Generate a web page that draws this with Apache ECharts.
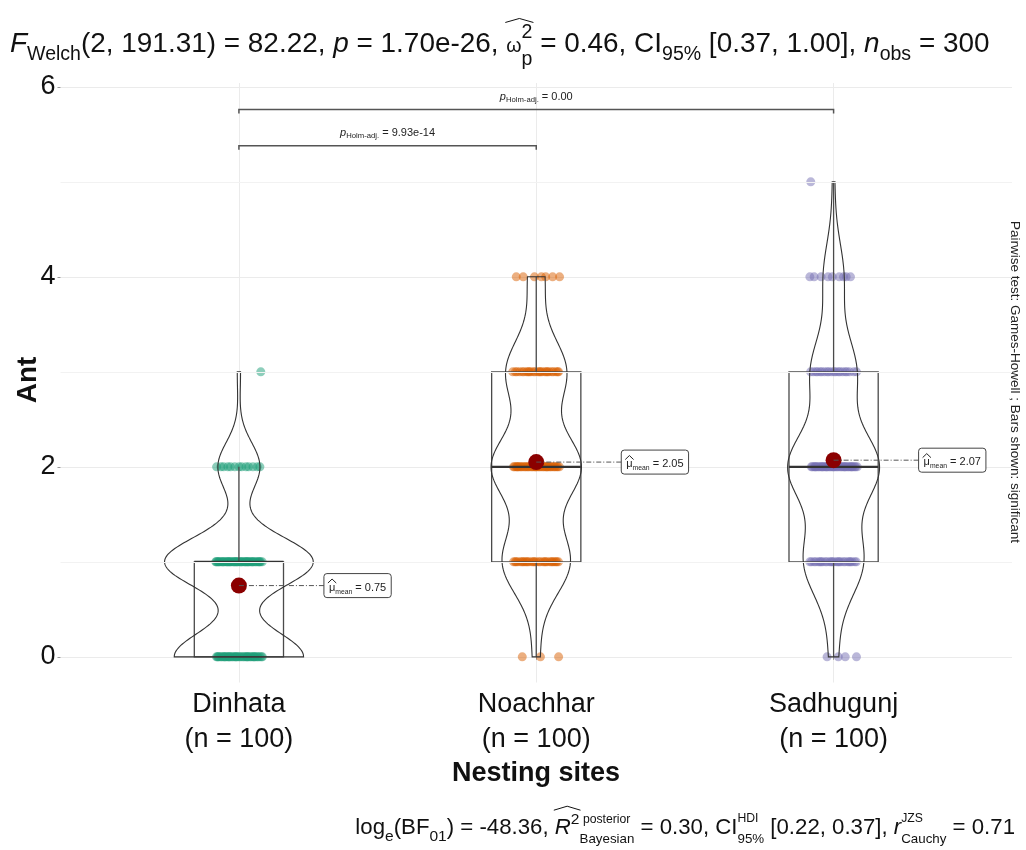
<!DOCTYPE html>
<html><head><meta charset="utf-8">
<script src="https://cdn.jsdelivr.net/npm/echarts@6/dist/echarts.min.js"></script>
<style>html,body{margin:0;padding:0;background:#fff}#c{width:1026px;height:850px}</style>
</head><body><div id="c"></div>
<script>
// ---------------- data ----------------
const sites = ['Dinhata', 'Noachhar', 'Sadhugunj'];
const siteN = [100, 100, 100];
const antLevels = [0, 1, 2, 3, 4, 5];
const countsDinhata   = [40, 46, 13, 1, 0, 0];
const countsNoachhar  = [3, 28, 37, 25, 7, 0];
const countsSadhugunj = [4, 26, 40, 20, 9, 1];
const siteColors = ['#1B9E77', '#D95F02', '#7570B3'];
const yTicks = [0, 2, 4, 6];
const yMinorTicks = [1, 3, 5];
const xTicks = [1, 2, 3];
const pairFrom = [0, 0];
const pairTo = [1, 2];
const pairP = ['9.93e-14', '0.00'];
const pairLevel = [5.38, 5.76];
const titleVals = ['2', '191.31', '82.22', '1.70e-26', '0.46', '0.37', '1.00', '300'];
const captionVals = ['-48.36', '0.30', '0.22', '0.37', '0.71'];

// ---------------- stats ----------------
const countsBySite = [countsDinhata, countsNoachhar, countsSadhugunj];
function expand(c) { const v = []; c.forEach((k, i) => { for (let j = 0; j < k; j++) v.push(antLevels[i]); }); return v; }
function quant(s, q) { const h = (s.length - 1) * q, lo = Math.floor(h); const hi = Math.min(lo + 1, s.length - 1); return s[lo] + (h - lo) * (s[hi] - s[lo]); }
const stats = countsBySite.map(c => {
  const v = expand(c).sort((a, b) => a - b);
  const n = v.length;
  const mean = v.reduce((a, b) => a + b, 0) / n;
  const sd = Math.sqrt(v.reduce((a, b) => a + (b - mean) * (b - mean), 0) / (n - 1));
  const q1 = quant(v, 0.25), med = quant(v, 0.5), q3 = quant(v, 0.75), iqr = q3 - q1;
  const wLo = Math.min(...v.filter(x => x >= q1 - 1.5 * iqr));
  const wHi = Math.max(...v.filter(x => x <= q3 + 1.5 * iqr));
  const bw = 0.9 * Math.min(sd, iqr / 1.34) * Math.pow(n, -0.2);
  const lo = v[0], hi = v[n - 1];
  const ys = [], ds = [];
  for (let k = 0; k <= 200; k++) {
    const y = lo + (hi - lo) * k / 200;
    let d = 0;
    c.forEach((cnt, i) => { const z = (y - antLevels[i]) / bw; d += cnt * Math.exp(-0.5 * z * z); });
    ys.push(y); ds.push(d / (n * bw * Math.sqrt(2 * Math.PI)));
  }
  return { n, mean, q1, med, q3, wLo, wHi, ys, ds };
});
const dMax = Math.max(...stats.map(s => Math.max(...s.ds)));

// jittered points (deterministic low-discrepancy spread, no randomness)
const pointSeries = countsBySite.map((c, s) => {
  const pts = [];
  c.forEach((cnt, li) => {
    for (let j = 0; j < cnt; j++) {
      const f = (j * 0.6180339887 + s * 0.775 + li * 0.255 + 0.195) % 1;
      pts.push([s + 1 + (f - 0.5) * 0.16, antLevels[li]]);
    }
  });
  return pts;
});

// ---------------- text helpers ----------------
const FONT = '"Liberation Sans", Arial, sans-serif';
const mctx = document.createElement('canvas').getContext('2d');
function fnt(size, it, b) { return (it ? 'italic ' : '') + (b ? 'bold ' : '') + size.toFixed(2) + 'px ' + FONT; }
function measure(t, font) { mctx.font = font; return mctx.measureText(t).width; }
function midOff(font) { mctx.font = font; mctx.textBaseline = 'middle'; const m = mctx.measureText('H'); mctx.textBaseline = 'alphabetic'; return m.actualBoundingBoxDescent; }
function layoutMath(pieces, S) {
  let x = 0, prevX = 0, prevW = 0; const items = [];
  pieces.forEach(p => {
    const size = S * (p.r || 1); const font = fnt(size, p.it, p.b);
    const w = measure(p.t, font); let px;
    if (p.stack) { px = prevX; const adv = Math.max(prevW, w); x = prevX + adv; prevW = adv; }
    else { px = x; prevX = x; prevW = w; x += w; }
    items.push({ t: p.t, x: px, dy: (p.dy || 0) * S, font, mid: midOff(font), w });
  });
  return { items, width: x, S };
}
function mathEls(L, x0, yb, color, hats) {
  const els = L.items.map(it => ({
    type: 'text', x: x0 + it.x, y: yb + it.dy - it.mid,
    style: { text: it.t, font: it.font, fill: color, align: 'left', verticalAlign: 'middle', textAlign: 'left', textVerticalAlign: 'middle' }
  }));
  (hats || []).forEach(h => {
    const a = L.items[h[0]], b = L.items.slice(h[0], h[1] + 1);
    const x1 = x0 + a.x - 1, x2 = x0 + Math.max(...b.map(i => i.x + i.w)) + 1;
    const y = yb + h[2] * L.S;
    els.push({ type: 'polyline', shape: { points: [[x1, y + 4], [(x1 + x2) / 2, y], [x2, y + 4]] }, style: { stroke: color, fill: null, lineWidth: 1 } });
  });
  return els;
}

// title
const titlePieces = [
  { t: 'F', it: true }, { t: 'Welch', r: 0.7, dy: 0.3 },
  { t: '(' + titleVals[0] + ', ' + titleVals[1] + ') = ' + titleVals[2] + ', ' },
  { t: 'p', it: true }, { t: ' = ' + titleVals[3] + ', ' },
  { t: 'ω', r: 0.7 }, { t: '2', r: 0.7, dy: -0.5 }, { t: 'p', r: 0.7, dy: 0.45, stack: true },
  { t: ' = ' + titleVals[4] + ', CI' }, { t: '95%', r: 0.7, dy: 0.3 },
  { t: ' [' + titleVals[5] + ', ' + titleVals[6] + '], ' },
  { t: 'n', it: true }, { t: 'obs', r: 0.7, dy: 0.3 }, { t: ' = ' + titleVals[7] }
];
let tL = layoutMath(titlePieces, 26);
tL = layoutMath(titlePieces, Math.max(22, Math.min(28, 26 * 980 / tL.width)));
const titleEls = mathEls(tL, 10, 52, '#111', [[5, 7, -1.2]]);

// caption
const capPieces = [
  { t: 'log' }, { t: 'e', r: 0.7, dy: 0.3 }, { t: '(BF' }, { t: '01', r: 0.7, dy: 0.3 },
  { t: ') = ' + captionVals[0] + ', ' },
  { t: 'R', it: true }, { t: '2', r: 0.7, dy: -0.45 },
  { t: ' posterior', r: 0.55, dy: -0.5 }, { t: 'Bayesian', r: 0.6, dy: 0.4, stack: true },
  { t: ' = ' + captionVals[1] + ', CI' },
  { t: 'HDI', r: 0.55, dy: -0.55 }, { t: '95%', r: 0.6, dy: 0.4, stack: true },
  { t: ' [' + captionVals[2] + ', ' + captionVals[3] + '], ' },
  { t: 'r', it: true }, { t: 'JZS', r: 0.55, dy: -0.55 }, { t: 'Cauchy', r: 0.6, dy: 0.4, stack: true },
  { t: ' = ' + captionVals[4] }
];
let cL = layoutMath(capPieces, 21);
cL = layoutMath(capPieces, Math.max(18, Math.min(23, 21 * 660 / cL.width)));
const capEls = mathEls(cL, 1015 - cL.width, 834, '#111', [[5, 6, -1.25]]);

// ---------------- chart ----------------
const chart = echarts.init(document.getElementById('c'), null, { renderer: 'canvas' });
const GRID = { left: 60.5, right: 14, top: 83, bottom: 167.5 };

const scatterSeries = pointSeries.map((pts, s) => ({
  type: 'scatter', data: pts, symbolSize: 9, z: 2, silent: true,
  itemStyle: { color: siteColors[s], opacity: 0.5 }
}));

const option = {
  animation: false,
  backgroundColor: '#fff',
  grid: GRID,
  xAxis: {
    type: 'value', min: 0.4, max: 3.6,
    axisLine: { show: false },
    axisTick: { show: true, length: 3, lineStyle: { color: '#999' }, customValues: xTicks },
    axisLabel: {
      customValues: xTicks, margin: 5, fontSize: 27, lineHeight: 35, color: '#111', fontFamily: FONT,
      formatter: v => { const i = Math.round(v) - 1; return sites[i] + '\n(n = ' + siteN[i] + ')'; }
    },
    splitLine: { show: true, lineStyle: { color: '#EBEBEB', width: 1 } }
  },
  yAxis: {
    type: 'value', min: -0.27, max: 6.04,
    axisLine: { show: false },
    axisTick: { show: true, length: 3, lineStyle: { color: '#999' }, customValues: yTicks },
    axisLabel: { customValues: yTicks, margin: 5, fontSize: 27, color: '#111', fontFamily: FONT },
    splitLine: { show: true, lineStyle: { color: '#EBEBEB', width: 1 } }
  },
  graphic: { elements: [
    ...titleEls, ...capEls,
    { type: 'text', x: 28, y: 380, rotation: Math.PI / 2, style: { text: 'Ant', font: fnt(28, false, true), fill: '#111', align: 'center', verticalAlign: 'middle', textAlign: 'center', textVerticalAlign: 'middle' } },
    { type: 'text', x: 536, y: 774, style: { text: 'Nesting sites', font: fnt(27, false, true), fill: '#111', align: 'center', verticalAlign: 'middle', textAlign: 'center', textVerticalAlign: 'middle' } },
    { type: 'text', x: 1015, y: 382, rotation: -Math.PI / 2, style: { text: 'Pairwise test: Games-Howell ; Bars shown: significant', font: fnt(13.5), fill: '#222', align: 'center', verticalAlign: 'middle', textAlign: 'center', textVerticalAlign: 'middle' } }
  ] },
  series: [
    { type: 'line', data: [], silent: true, z: 1,
      markLine: { silent: true, symbol: 'none', label: { show: false }, lineStyle: { color: '#F2F2F2', width: 1, type: 'solid' },
        data: yMinorTicks.map(v => ({ yAxis: v })) } },
    ...scatterSeries,
    { // boxplots
      type: 'custom', z: 3, silent: true, data: stats.map((s, i) => [i + 1, s.med]),
      renderItem: (params, api) => {
        const i = params.dataIndex, s = stats[i], c = i + 1;
        const tl = api.coord([c - 0.15, s.q3]), br = api.coord([c + 0.15, s.q1]);
        const m1 = api.coord([c - 0.15, s.med]), m2 = api.coord([c + 0.15, s.med]);
        const wt = api.coord([c, s.wHi]), wb = api.coord([c, s.wLo]);
        const st = { stroke: '#4a4a4a', fill: null, lineWidth: 1.3 };
        return { type: 'group', children: [
          { type: 'line', shape: { x1: wt[0], y1: wt[1], x2: wt[0], y2: tl[1] }, style: st },
          { type: 'line', shape: { x1: wb[0], y1: br[1], x2: wb[0], y2: wb[1] }, style: st },
          { type: 'rect', shape: { x: tl[0], y: tl[1], width: br[0] - tl[0], height: br[1] - tl[1] }, style: st },
          { type: 'line', shape: { x1: m1[0], y1: m1[1], x2: m2[0], y2: m2[1] }, style: { stroke: '#333', lineWidth: 2.4 } }
        ] };
      }
    },
    { // violins
      type: 'custom', z: 3, silent: true, data: stats.map((s, i) => [i + 1, s.mean]),
      renderItem: (params, api) => {
        const i = params.dataIndex, s = stats[i], c = i + 1, pts = [];
        for (let k = 0; k < s.ys.length; k++) pts.push(api.coord([c - s.ds[k] / dMax * 0.25, s.ys[k]]));
        for (let k = s.ys.length - 1; k >= 0; k--) pts.push(api.coord([c + s.ds[k] / dMax * 0.25, s.ys[k]]));
        return { type: 'polygon', shape: { points: pts }, style: { fill: null, stroke: '#333', lineWidth: 1.1 } };
      }
    },
    { // mean labels
      type: 'custom', z: 5, silent: true, data: stats.map((s, i) => [i + 1, s.mean]),
      renderItem: (params, api) => {
        const i = params.dataIndex, s = stats[i];
        const p = api.coord([i + 1, s.mean]);
        const L = layoutMath([{ t: 'μ' }, { t: 'mean', r: 0.62, dy: 0.3 }, { t: ' = ' + s.mean.toFixed(2) }], 11);
        const bx = p[0] + 85, bw = L.width + 10, bh = 24;
        const kids = [
          { type: 'line', shape: { x1: p[0], y1: p[1], x2: bx, y2: p[1] }, style: { stroke: '#555', lineWidth: 1, lineDash: [5, 2, 1, 2] } },
          { type: 'rect', shape: { x: bx, y: p[1] - bh / 2, width: bw, height: bh, r: 3 }, style: { fill: '#fff', stroke: '#444', lineWidth: 1 } },
          ...mathEls(L, bx + 5, p[1] + 5, '#222', [[0, 0, -1.05]])
        ];
        return { type: 'group', children: kids };
      }
    },
    { // mean points
      type: 'scatter', z: 4, silent: true, data: stats.map((s, i) => [i + 1, s.mean]),
      symbolSize: 16, itemStyle: { color: '#8B0000', opacity: 1 }
    },
    { // pairwise brackets
      type: 'custom', z: 5, silent: true, data: pairFrom.map((f, k) => [f + 1, pairLevel[k]]),
      renderItem: (params, api) => {
        const k = params.dataIndex;
        const a = api.coord([pairFrom[k] + 1, pairLevel[k]]), b = api.coord([pairTo[k] + 1, pairLevel[k]]);
        const L = layoutMath([{ t: 'p', it: true }, { t: 'Holm-adj.', r: 0.7, dy: 0.25 }, { t: ' = ' + pairP[k] }], 11);
        return { type: 'group', children: [
          { type: 'polyline', shape: { points: [[a[0], a[1] + 4], [a[0], a[1]], [b[0], b[1]], [b[0], b[1] + 4]] }, style: { stroke: '#555', fill: null, lineWidth: 1.5 } },
          ...mathEls(L, (a[0] + b[0]) / 2 - L.width / 2, a[1] - 10, '#222')
        ] };
      }
    }
  ]
};
chart.setOption(option);
</script></body></html>
